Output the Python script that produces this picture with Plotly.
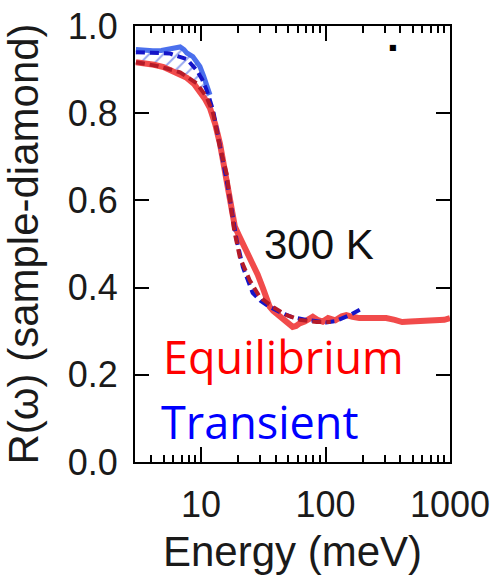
import numpy as np
import plotly.graph_objects as go

# Equilibrium (measured)
E_eq = [3.0, 3.5, 4.2, 5.0, 5.7, 6.6, 7.7, 8.8, 9.8, 10.8, 11.8, 13.0, 14.2, 15.0, 16.0,
        17.1, 18.0, 18.7, 20.0, 21.7, 23.5, 26.0, 28.5, 31.3, 33.5, 35.6, 38.0, 40.5, 44.0,
        48.7, 54.5, 58.0, 62.0, 68.0, 75.0, 79.0, 86.0, 95.0, 105, 120, 135, 147, 165, 187,
        220, 260, 307, 360, 413, 480, 564, 650, 720, 815, 900, 1000]
R_eq = [0.917, 0.915, 0.911, 0.906, 0.899, 0.891, 0.881, 0.867, 0.850, 0.832, 0.812, 0.775,
        0.730, 0.690, 0.640, 0.590, 0.555, 0.540, 0.522, 0.502, 0.482, 0.456, 0.430, 0.400,
        0.375, 0.356, 0.347, 0.340, 0.330, 0.320, 0.310, 0.312, 0.318, 0.322, 0.328, 0.333,
        0.326, 0.322, 0.330, 0.325, 0.334, 0.337, 0.333, 0.330, 0.330, 0.330, 0.330, 0.326,
        0.321, 0.322, 0.323, 0.323, 0.322, 0.323, 0.326, 0.330]

# Transient (measured)
E_tr = [3.0, 3.5, 4.1, 4.8, 5.6, 6.2, 6.8, 7.3, 7.7, 8.6, 9.8, 10.5, 11.1, 11.8]
R_tr = [0.946, 0.944, 0.943, 0.944, 0.947, 0.950, 0.952, 0.946, 0.938, 0.930, 0.907, 0.885,
        0.861, 0.842]

# Transient fit
E_trfit = [3.0, 4.0, 5.6, 7.7, 9.2, 10.2, 11.1, 12.5, 14.2, 16.1, 17.6, 19.3, 21.7, 26.0,
           30.0, 33.7, 42.8, 54.5, 70.5, 85, 101, 120, 137, 160, 190]
R_trfit = [0.940, 0.939, 0.937, 0.924, 0.899, 0.878, 0.853, 0.807, 0.730, 0.645, 0.580,
           0.510, 0.447, 0.388, 0.370, 0.360, 0.344, 0.332, 0.326, 0.322, 0.320, 0.323,
           0.330, 0.338, 0.350]

# Equilibrium fit
E_eqfit = [3.0, 4.5, 6.8, 9.2, 11.1, 12.5, 14.2, 16.1, 17.1, 18.5, 20.5, 24.6, 29.7, 37.6,
           48.7, 62, 85, 110]
R_eqfit = [0.917, 0.908, 0.894, 0.869, 0.837, 0.800, 0.722, 0.660, 0.600, 0.530, 0.470,
           0.417, 0.378, 0.356, 0.337, 0.326, 0.321, 0.321]

x_ticks = [10, 100, 1000]
x_ticktext = ["10", "100", "1000"]
x_minor = [3, 4, 5, 6, 7, 8, 9, 20, 30, 40, 50, 60, 70, 80, 90,
           200, 300, 400, 500, 600, 700, 800, 900]
y_ticks = [0.0, 0.2, 0.4, 0.6, 0.8, 1.0]

# hatched region polygon: transient on top, equilibrium below (same energy span)
n_low = sum(1 for e in E_eq if e <= E_tr[-1])
poly_x = list(E_tr) + list(E_eq[:n_low])[::-1]
poly_y = list(R_tr) + list(R_eq[:n_low])[::-1]

fig = go.Figure()
fig.add_trace(go.Scatter(
    x=poly_x, y=poly_y, mode="none", fill="toself",
    fillcolor="rgba(0,0,0,0)",
    fillpattern=dict(shape="/", fgcolor="#2f4fe0", bgcolor="rgba(0,0,0,0)",
                     size=10, solidity=0.2, fillmode="overlay"),
    hoverinfo="skip", showlegend=False))
fig.add_trace(go.Scatter(x=E_eq, y=R_eq, mode="lines",
                         line=dict(color="rgba(240,60,60,0.92)", width=6),
                         showlegend=False))
fig.add_trace(go.Scatter(x=E_tr, y=R_tr, mode="lines",
                         line=dict(color="rgba(60,100,235,0.92)", width=5),
                         showlegend=False))
fig.add_trace(go.Scatter(x=E_trfit, y=R_trfit, mode="lines",
                         line=dict(color="#1414c8", width=4, dash="9px,5px"),
                         showlegend=False))
fig.add_trace(go.Scatter(x=E_eqfit, y=R_eqfit, mode="lines",
                         line=dict(color="#b41a28", width=4, dash="9px,5px"),
                         showlegend=False))

axis_font = dict(family="Liberation Sans, Arial, sans-serif", size=36, color="#1a1a1a")
title_font = dict(family="Liberation Sans, Arial, sans-serif", size=42, color="#1a1a1a")

fig.update_layout(
    width=495, height=583,
    margin=dict(l=135, r=45, t=26, b=121),
    paper_bgcolor="white", plot_bgcolor="white",
    xaxis=dict(type="log", range=[np.log10(2.95), 3.0], automargin=False,
               tickvals=x_ticks, ticktext=x_ticktext,
               ticks="inside", ticklen=15, tickwidth=2, tickcolor="black",
               showline=True, linewidth=2, linecolor="black", mirror="ticks",
               showgrid=False, zeroline=False,
               minor=dict(tickvals=x_minor, ticks="inside", ticklen=7,
                          tickwidth=1.5, tickcolor="black", showgrid=False),
               tickfont=axis_font, ticklabelstandoff=10,
               title=dict(text="Energy (meV)", font=title_font, standoff=12)),
    yaxis=dict(range=[0, 1.0], tickvals=y_ticks, tickformat=".1f", automargin=False,
               ticks="inside", ticklen=14, tickwidth=2, tickcolor="black",
               showline=True, linewidth=2, linecolor="black", mirror="ticks",
               showgrid=False, zeroline=False,
               tickfont=axis_font, ticklabelstandoff=8,
               title=dict(text="R(ω) (sample-diamond)", font=title_font, standoff=28)),
    annotations=[
        dict(text="300 K", xref="paper", yref="paper", x=0.403, y=0.50,
             xanchor="left", yanchor="middle", showarrow=False,
             font=dict(family="Liberation Sans, Arial, sans-serif", size=42, color="#111")),
        dict(text="Equilibrium", xref="paper", yref="paper", x=0.083, y=0.242,
             xanchor="left", yanchor="middle", showarrow=False,
             font=dict(family="Open Sans, sans-serif", size=45, color="#ff0000")),
        dict(text="Transient", xref="paper", yref="paper", x=0.077, y=0.093,
             xanchor="left", yanchor="middle", showarrow=False,
             font=dict(family="Open Sans, sans-serif", size=45, color="#0000ff")),
        dict(text="■", xref="paper", yref="paper", x=0.818, y=0.95,
             xanchor="center", yanchor="middle", showarrow=False,
             font=dict(family="DejaVu Sans", size=8, color="black")),
    ],
)

fig.write_html("out.html")
